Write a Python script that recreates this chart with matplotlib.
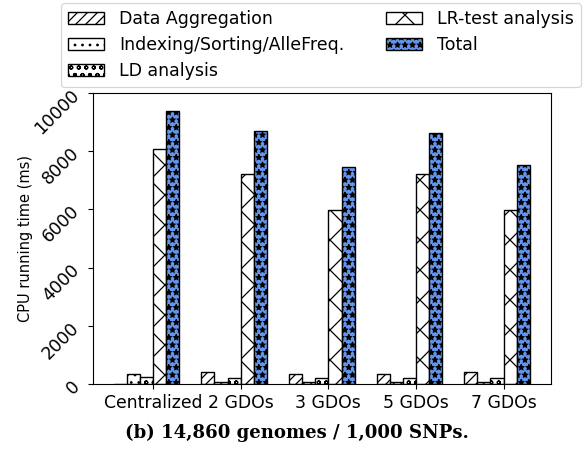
import matplotlib
matplotlib.use("Agg")
import matplotlib.pyplot as plt
import numpy as np

DPI = 90
S = 100.0 / DPI  # keep pixel sizes as tuned for 100 dpi

plt.rcParams['hatch.linewidth'] = 1.0
plt.rcParams['axes.linewidth'] = 0.8 * S
plt.rcParams['xtick.major.size'] = 3.5 * S
plt.rcParams['ytick.major.size'] = 3.5 * S
plt.rcParams['xtick.major.width'] = 0.8 * S
plt.rcParams['ytick.major.width'] = 0.8 * S
plt.rcParams['xtick.major.pad'] = 3.5 * S
plt.rcParams['ytick.major.pad'] = 3.5 * S

categories = ["Centralized", "2 GDOs", "3 GDOs", "5 GDOs", "7 GDOs"]
series_names = ["Data Aggregation", "Indexing/Sorting/AlleFreq.", "LD analysis",
                "LR-test analysis", "Total"]
data_aggregation = [0, 395, 360, 360, 405]
indexing = [350, 70, 65, 60, 65]
ld_analysis = [247, 212, 220, 205, 215]
lr_test = [8060, 7200, 5980, 7200, 5985]
total = [9365, 8690, 7440, 8640, 7510]
yticks = [0, 2000, 4000, 6000, 8000, 10000]

series = [data_aggregation, indexing, ld_analysis, lr_test, total]
hatches = ['///', '..', 'oo', 'x', '**']
colors = ['white', 'white', 'white', 'white', '#6495ED']

fig = plt.figure(figsize=(584 / DPI, 458 / DPI), dpi=DPI)
ax = fig.add_axes([0.159, 0.1616, 0.784, 0.6354])

x = np.arange(len(categories))
w = 0.15
for j, (vals, name) in enumerate(zip(series, series_names)):
    ax.bar(x + (j - 2.5) * w, vals, w, color=colors[j], edgecolor='black',
           hatch=hatches[j], linewidth=1.0 * S, label=name)

ax.set_xticks(x)
ax.set_xticklabels(categories, fontsize=12.4 * S)
ax.set_ylim(0, 10000)
ax.set_yticks(yticks)
ax.set_yticklabels([str(t) for t in yticks], rotation=45, fontsize=12.5 * S)
ax.set_ylabel("CPU running time (ms)", fontsize=10.5 * S)
ax.yaxis.set_label_coords(-0.131, 0.5)

handles, labels = ax.get_legend_handles_labels()
fig.legend(handles, labels, ncol=2, loc='upper center',
           bbox_to_anchor=(0.55, 1.0), fontsize=12.5 * S, frameon=True,
           handlelength=2.07, handletextpad=0.86, columnspacing=2.4,
           borderaxespad=0.2, labelspacing=0.45)

fig.text(0.509, 0.0546, "(b) 14,860 genomes / 1,000 SNPs.", ha='center',
         va='center', fontsize=13.1 * S, fontweight='bold', family='DejaVu Serif')

fig.savefig("out.png", dpi=DPI)
